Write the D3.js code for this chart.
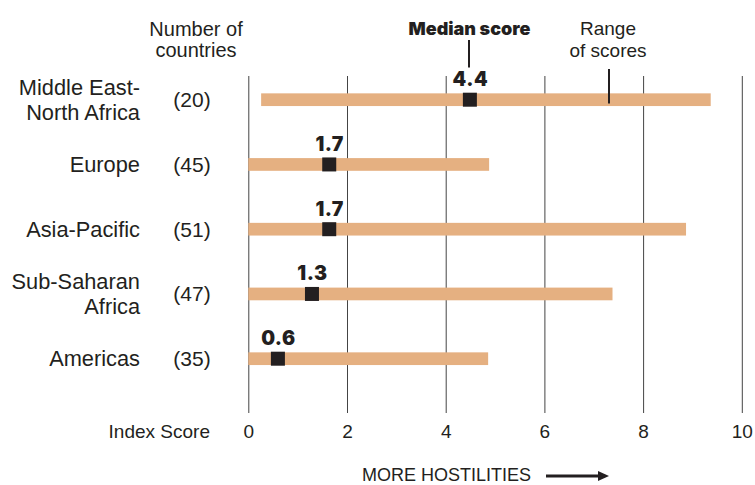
<!DOCTYPE html>
<html>
<head>
<meta charset="utf-8">
<script src="https://cdn.jsdelivr.net/npm/d3@7"></script>
<style>
  html, body { margin: 0; padding: 0; background: #fff; }
  svg { display: block; }
  .lbl { font-family: "Liberation Sans", Arial, sans-serif; fill: #231f20; }
  .heavy { font-family: "Inter", "Liberation Sans", sans-serif; font-weight: 900; fill: #231f20; }
</style>
</head>
<body>
<svg id="chart" width="755" height="485"></svg>
<script>
// ---- data ----
const regions = [["Middle East-", "North Africa"], ["Europe"], ["Asia-Pacific"], ["Sub-Saharan", "Africa"], ["Americas"]];
const countryCounts = [20, 45, 51, 47, 35];
const rangeMin = [0.26, 0, 0, 0, 0];
const rangeMax = [9.37, 4.88, 8.87, 7.38, 4.86];
const medianPos = [4.49, 1.64, 1.64, 1.29, 0.60];
const medianLabels = ["4.4", "1.7", "1.7", "1.3", "0.6"];
const tickValues = [0, 2, 4, 6, 8, 10];

const svg = d3.select("#chart");
const x = d3.scaleLinear().domain([0, 10]).range([248.3, 741.8]);
const y = d3.scalePoint().domain(d3.range(regions.length)).range([99.7, 358.7]);

const gridTop = 76, gridBottom = 413;
const barH = 12.7, sq = 14;

// gridlines + tick labels via axis
const axis = d3.axisBottom(x).tickValues(tickValues).tickFormat(d3.format("d")).tickSize(-(gridBottom - gridTop));
const ag = svg.append("g").attr("transform", `translate(0,${gridBottom})`).call(axis);
ag.select(".domain").remove();
ag.selectAll(".tick line").attr("stroke", "#444").attr("stroke-width", 1);
ag.selectAll(".tick text")
  .attr("class", "lbl")
  .attr("y", 25).attr("dy", 0)
  .style("font-size", "19px")
  .attr("fill", "#231f20");

svg.append("text").attr("class", "lbl")
  .attr("x", 210).attr("y", 438).attr("text-anchor", "end")
  .style("font-size", "19px").text("Index Score");

// header: number of countries
const hdr = svg.append("text").attr("class", "lbl").attr("text-anchor", "middle").style("font-size", "20px");
hdr.append("tspan").attr("x", 196).attr("y", 36).text("Number of");
hdr.append("tspan").attr("x", 196).attr("y", 57).text("countries");

// region labels and counts
regions.forEach((lines, i) => {
  const cy = y(i);
  const t = svg.append("text").attr("class", "lbl").attr("text-anchor", "end").style("font-size", "21.8px");
  const n = lines.length;
  lines.forEach((ln, j) => {
    t.append("tspan").attr("x", 140)
      .attr("y", cy + 7.5 + (j - (n - 1) / 2) * 25)
      .text(ln);
  });
  svg.append("text").attr("class", "lbl").attr("text-anchor", "middle")
    .attr("x", 192).attr("y", cy + 7.5)
    .style("font-size", "21px").text(`(${countryCounts[i]})`);
});

// range bars
svg.append("g").selectAll("rect").data(regions).join("rect")
  .attr("x", (d, i) => x(rangeMin[i]))
  .attr("width", (d, i) => x(rangeMax[i]) - x(rangeMin[i]))
  .attr("y", (d, i) => y(i) - barH / 2)
  .attr("height", barH)
  .attr("fill", "#e5b081");

// median markers
svg.append("g").selectAll("rect").data(regions).join("rect")
  .attr("x", (d, i) => x(medianPos[i]) - sq / 2)
  .attr("y", (d, i) => y(i) - sq / 2)
  .attr("width", sq).attr("height", sq)
  .attr("fill", "#231f20");

// median labels
svg.append("g").selectAll("text").data(regions).join("text")
  .attr("class", "heavy")
  .attr("x", (d, i) => x(medianPos[i]) + 0.5)
  .attr("y", (d, i) => y(i) - 13.5)
  .attr("text-anchor", "middle")
  .style("font-size", "19.5px")
  .style("letter-spacing", "0.5px")
  .text((d, i) => medianLabels[i]);

// legend annotations
svg.append("text").attr("class", "heavy").attr("x", 469.5).attr("y", 34.5)
  .attr("text-anchor", "middle").style("font-size", "18px").text("Median score");
svg.append("line").attr("x1", 469).attr("x2", 469).attr("y1", 40).attr("y2", 67.5)
  .attr("stroke", "#231f20").attr("stroke-width", 2);

const rg = svg.append("text").attr("class", "lbl").attr("text-anchor", "middle").style("font-size", "19px");
rg.append("tspan").attr("x", 608).attr("y", 35).text("Range");
rg.append("tspan").attr("x", 608).attr("y", 56.5).text("of scores");
svg.append("line").attr("x1", 609).attr("x2", 609).attr("y1", 69).attr("y2", 103.5)
  .attr("stroke", "#231f20").attr("stroke-width", 2);

// bottom note with arrow
svg.append("text").attr("class", "lbl").attr("x", 362).attr("y", 481)
  .style("font-size", "18px").text("MORE HOSTILITIES");
svg.append("line").attr("x1", 546).attr("x2", 600).attr("y1", 476).attr("y2", 476)
  .attr("stroke", "#231f20").attr("stroke-width", 3);
svg.append("path").attr("d", "M598,471 L609,476 L598,481 Z").attr("fill", "#231f20");
</script>
</body>
</html>
